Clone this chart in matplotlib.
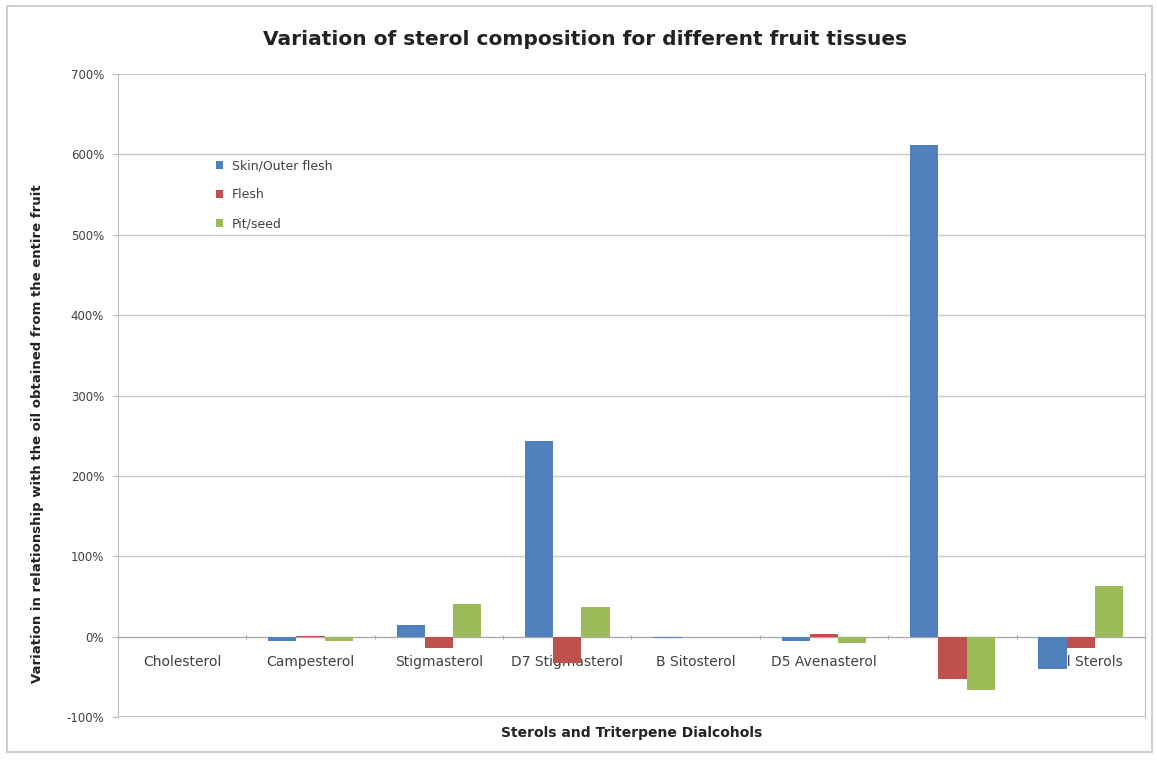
import numpy as np
import matplotlib.pyplot as plt
from matplotlib.patches import Rectangle

# sterol variation per tissue, relative to whole fruit oil (%)
categories = ['Cholesterol', 'Campesterol', 'Stigmasterol', 'D7 Stigmasterol',
              'B Sitosterol', 'D5 Avenasterol', 'Erd', 'Total Sterols']
skin = [0, -5, 15, 244, -2, -6, 612, -40]
flesh = [0, 1, -14, -33, 0, 3, -53, -14]
pit = [0, -6, 40, 37, -1, -8, -67, 63]

series = ['Skin/Outer flesh', 'Flesh', 'Pit/seed']
colors = ['#4F81BD', '#C0504D', '#9BBB59']

fig = plt.figure(figsize=(11.57, 7.60), dpi=100)
fig.patches.append(Rectangle((0.006, 0.01), 0.99, 0.982, transform=fig.transFigure,
                             fill=False, edgecolor='#d0d0d0', linewidth=1.5))
ax = fig.add_axes([0.102, 0.0566, 0.8876, 0.846])

x = np.arange(len(categories))
w = 0.22
for i, (vals, c, name) in enumerate(zip([skin, flesh, pit], colors, series)):
    ax.bar(x + (i - 1) * w, np.array(vals) / 100, width=w, color=c, label=name, zorder=3)

ax.set_xlim(-0.5, len(categories) - 0.5)
ax.set_ylim(-1, 7)
ax.set_yticks(np.arange(-1, 7.01, 1))
ax.set_yticklabels(['%d%%' % v for v in range(-100, 701, 100)], fontsize=8.5, color='#404040')
ax.grid(axis='y', color='#c8c8c8', linewidth=1, zorder=0)
ax.tick_params(axis='y', length=4, color='#bbbbbb', pad=6)

# horizontal axis sits on the zero line, labels just under it
ax.spines['bottom'].set_position(('data', 0))
ax.spines['bottom'].set_color('#aaaaaa')
ax.set_xticks(np.arange(-0.5, len(categories), 1))
ax.set_xticklabels([])
ax.tick_params(axis='x', length=3, direction='inout', color='#aaaaaa')
for xi, name in zip(x, categories):
    ax.text(xi, -0.31, name, ha='center', va='center', fontsize=10, color='#404040', zorder=1)

for s in ['left', 'right', 'top']:
    ax.spines[s].set_color('#bbbbbb')
ax.spines['top'].set_visible(False)
ax.axhline(-1, color='#bbbbbb', linewidth=2, zorder=0)

fig.text(0.506, 0.948, 'Variation of sterol composition for different fruit tissues',
         ha='center', va='center', fontsize=14.5, fontweight='bold', color='#222222')
fig.text(0.032, 0.43, 'Variation in relationship with the oil obtained from the entire fruit',
         rotation=90, ha='center', va='center', fontsize=9.5, fontweight='bold', color='#222222')
fig.text(0.546, 0.035, 'Sterols and Triterpene Dialcohols', ha='center', va='center',
         fontsize=10, fontweight='bold', color='#222222')

ax.legend(loc='upper left', bbox_to_anchor=(0.084, 0.885), frameon=False, fontsize=9,
          handlelength=0.6, handleheight=0.6, labelspacing=1.3, handletextpad=0.7,
          labelcolor='#404040')

fig.savefig('out.png', dpi=100)
